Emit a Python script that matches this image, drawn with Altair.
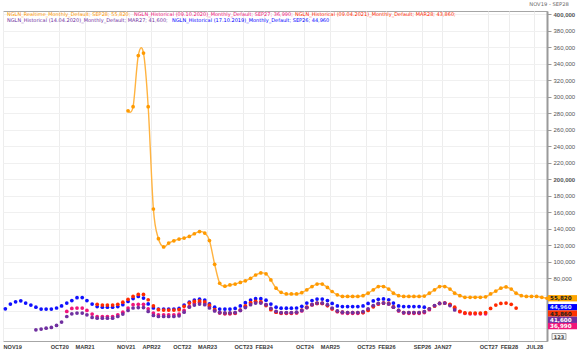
import altair as alt
import pandas as pd

# ---------------- data (values in thousands, monthly, index 0 = NOV19) ----------------
realtime_name = "NGLN_Realtime_Monthly_Default"
realtime_start = 24  # NOV21
realtime = [
    283, 288, 350, 353, 288, 164, 128, 118, 122.7, 125.5, 127.5, 128.7,
    130.7, 134, 136.7, 134.8, 125.8, 97, 74, 70.5, 72, 73, 75, 77,
    80, 84, 86.5, 85.5, 78, 68, 63, 61, 61, 61, 62.5, 66,
    70, 73, 73, 69, 64, 60, 58, 58, 58, 58, 59, 62,
    66, 70, 70, 67, 62, 59, 58, 58, 58, 58, 58.5, 62,
    66, 70, 70, 67, 62, 59, 57, 57, 57, 57, 57.5, 61,
    64.5, 68, 69.5, 67, 62, 59, 58, 58, 58, 57, 55.82,
]

h2019_name = "NGLN_Historical (17.10.2019)_Monthly_Default"
h2019_start = 0  # NOV19
h2019 = [
    43, 48.7, 51.5, 52.7, 50, 47.5, 45, 42.7, 42.7, 42.7, 44, 46.5,
    50, 53, 56.5, 56.7, 53, 48.7, 45.8, 45, 45, 45, 45.8, 48,
    52, 55.5, 58, 56, 49, 44, 42.7, 42.7, 42.7, 42.7, 43.5, 47.5,
    51, 53.7, 54.7, 53.7, 49, 45, 42.7, 42.7, 42.7, 43.5, 46.5, 50.5,
    53.7, 55.3, 55.3, 53.5, 48.7, 45, 43.8, 43.8, 43.8, 44, 46, 50,
    53, 54.8, 54.8, 53, 49.5, 46.5, 45.8, 45.8, 45.8, 45.8, 46.5, 49.5,
    52.5, 54.5, 55, 54, 50, 46.5, 45.8, 45.8, 45.8, 45.8, 44.96,
]

h2020a_name = "NGLN_Historical (14.04.2020)_Monthly_Default"
h2020a_start = 6  # MAY20
h2020a = [
    17.5, 18.4, 19.6, 20.4, 22.8, 26.9,
    33.7, 37, 37.8, 37.8, 35.7, 32.5, 31.7, 31.7, 31.7, 31.7, 33.7, 36.6,
    41, 44, 44.6, 44.6, 39.8, 35, 33.7, 33.7, 33.7, 33.7, 34.5, 39,
    45, 47.5, 48.7, 48, 44, 40.5, 38.5, 38, 38, 38.5, 41, 44.5,
    48, 50, 50, 48, 43.5, 40, 38.5, 38.5, 38.5, 39, 41, 44.5,
    48, 50, 50, 48, 44, 40.5, 39, 38.5, 38.5, 38.5, 39.5, 43,
    47, 49.5, 50, 49, 45, 41, 38.5, 38.5, 38.5, 38.5, 39.5, 43,
    47, 49.5, 50, 47, 41.6,
]

h2020b_name = "NGLN_Historical (09.10.2020)_Monthly_Default"
h2020b_start = 12  # NOV20
h2020b = [
    39.8, 43.5, 43.9, 43.9, 41, 36.6, 33.7, 33.7, 33.7, 33.7, 35.7, 39,
    43.9, 48, 48.5, 48.5, 43, 37.8, 35.7, 35.7, 35.7, 35.7, 36.5, 41,
    46, 49.5, 51, 50, 46, 41, 38, 37, 37, 37.5, 41, 46,
    50, 51.5, 51, 48, 43, 39, 37.5, 37.5, 37.5, 38, 40.5, 44.5,
    48, 49.5, 49.5, 47, 43, 39.5, 38, 37.5, 37.5, 37.5, 38.5, 42,
    46, 49, 50, 49, 45, 40.5, 38, 37.5, 37.5, 37.5, 38.5, 42,
    46.5, 49.5, 50, 48, 43.5, 39.5, 37.5, 37, 37, 37, 36.99,
]

h2021_name = "NGLN_Historical (09.04.2021)_Monthly_Default"
h2021_start = 18  # MAY21
h2021 = [
    48.5, 47.5, 47.5, 47.5, 48.5, 51,
    54.5, 58, 60.5, 60.5, 54, 46.5, 42, 41.5, 41.5, 41.5, 42, 46,
    50, 52, 52.5, 51.5, 47.5, 42, 38.5, 37.5, 37.5, 38, 41.5, 46.5,
    50.5, 52, 51.5, 47, 42, 39, 38, 38, 38, 38.5, 41.5, 45,
    48, 49.5, 49.5, 47, 43, 40, 39, 38.5, 38.5, 38.5, 38.5, 41,
    45.5, 49, 50, 49.5, 45.5, 41, 38.5, 38.5, 38.5, 38.5, 39.5, 43,
    46.5, 49.5, 50, 48.5, 45, 40, 38, 37.8, 37.8, 37.8, 38.5, 43.5,
    47.5, 49.5, 50, 48.5, 43.86,
]

legend_line1 = [
    ("NGLN_Realtime_Monthly_Default; SEP28; 55,820;", "#FF9900"),
    ("NGLN_Historical (09.10.2020)_Monthly_Default; SEP27; 36,990;", "#F0157A"),
    ("NGLN_Historical (09.04.2021)_Monthly_Default; MAR28; 43,860;", "#FF2A00"),
]
legend_line2 = [
    ("NGLN_Historical (14.04.2020)_Monthly_Default; MAR27; 41,600;", "#7030A0"),
    ("NGLN_Historical (17.10.2019)_Monthly_Default; SEP26; 44,960", "#0000FF"),
]
end_labels = ["55,820", "44,960", "43,860", "41,600", "36,990"]
end_values = [55820, 44960, 43860, 41600, 36990]
end_bg = ["#FFA500", "#0000FF", "#FF3300", "#7030A0", "#F0157A"]
end_fg = ["#222222", "#DDE6FF", "#222222", "#FFFFFF", "#FFFFFF"]

x_ticks = [(2019, 11), (2020, 10), (2021, 3), (2021, 11), (2022, 4), (2022, 10),
           (2023, 3), (2023, 10), (2024, 2), (2024, 10), (2025, 3), (2025, 10),
           (2026, 2), (2026, 9), (2027, 1), (2027, 10), (2028, 2), (2028, 7)]
y_ticks = list(range(20000, 400001, 20000))

# ---------------- layout ----------------
W, H = 544, 330
Y_MIN, Y_MAX = 4000, 404000


def month_date(idx):
    total = 10 + idx
    return f"{2019 + total // 12}-{total % 12 + 1:02d}-15"


hist_specs = [
    (h2019_name, h2019_start, h2019, "#1010FF"),
    (h2020b_name, h2020b_start, h2020b, "#F0157A"),
    (h2021_name, h2021_start, h2021, "#FF2A00"),
    (h2020a_name, h2020a_start, h2020a, "#7030A0"),
]
rows = []
for name, start, vals, _c in hist_specs:
    for i, v in enumerate(vals):
        rows.append({"date": month_date(start + i), "value": v * 1000, "series": name})
hist_df = pd.DataFrame(rows)

rt_df = pd.DataFrame({
    "date": [month_date(realtime_start + i) for i in range(len(realtime))],
    "value": [v * 1000 for v in realtime],
})

x_scale = alt.Scale(
    type="utc",
    domain=[alt.DateTime(year=2019, month=11, date=1, utc=True),
            alt.DateTime(year=2028, month=9, date=15, utc=True)],
)
y_scale = alt.Scale(domain=[Y_MIN, Y_MAX], nice=False, zero=False)

x_axis = alt.Axis(
    values=[alt.DateTime(year=y, month=m, date=1, utc=True) for y, m in x_ticks],
    labelExpr="upper(utcFormat(datum.value, '%b%y'))",
    labelFontSize=5.6, labelFontWeight="bold", labelColor="#3A3A3A",
    labelFont="Liberation Sans",
    labelFlush=True, labelPadding=3, ticks=False, domain=False,
    grid=True, gridColor="#EDEDED", title=None, labelOverlap=False,
)
y_axis = alt.Axis(
    orient="right", values=y_ticks, format=",d",
    labelExpr="datum.value < 70000 ? '' : datum.label",
    labelFontSize=6, labelColor="#555555", labelFont="Liberation Sans",
    labelFontWeight={"condition": {"test": "datum.value == 200000 || datum.value == 400000",
                                   "value": "bold"}, "value": "normal"},
    labelOverlap=False,
    domain=True, domainColor="#9A9A9A", domainWidth=2,
    tickColor="#9A9A9A", tickSize=4, labelPadding=2,
    grid=True, gridColor="#F0F0F0", title=None,
)

X = alt.X("date:T", scale=x_scale, axis=x_axis)
Y = alt.Y("value:Q", scale=y_scale, axis=y_axis)

hist_points = alt.Chart(hist_df).mark_circle(size=14, opacity=1).encode(
    x=X, y=Y,
    color=alt.Color("series:N", legend=None,
                    scale=alt.Scale(domain=[s[0] for s in hist_specs],
                                    range=[s[3] for s in hist_specs])),
)

rt_line = alt.Chart(rt_df).mark_line(interpolate="cardinal", color="#FFB340", strokeWidth=1.4).encode(
    x=X, y=Y,
)
rt_points = alt.Chart(rt_df).mark_circle(size=14, opacity=1, color="#FF9A00").encode(
    x=X, y=Y,
)

px_per_unit = H / (Y_MAX - Y_MIN)
box_h = 6.3
centers_px = []
for v in end_values:
    p = (Y_MAX - v) * px_per_unit
    if centers_px and p < centers_px[-1] + box_h:
        p = centers_px[-1] + box_h
    centers_px.append(p)
lab_df = pd.DataFrame({
    "text": end_labels,
    "value": [Y_MAX - p / px_per_unit for p in centers_px],
    "lo": [Y_MAX - (p + box_h / 2) / px_per_unit for p in centers_px],
    "hi": [Y_MAX - (p - box_h / 2) / px_per_unit for p in centers_px],
    "bg": end_bg,
    "fg": end_fg,
})
boxes = alt.Chart(lab_df).mark_rect().encode(
    x=alt.value(W + 1), x2=alt.value(W + 30),
    y=alt.Y("lo:Q", scale=y_scale, axis=y_axis), y2="hi:Q",
    color=alt.Color("bg:N", scale=None),
)
box_text = alt.Chart(lab_df).mark_text(align="left", baseline="middle", fontSize=5.6,
                                       fontWeight="bold", font="DejaVu Sans").encode(
    x=alt.value(W + 3),
    y=Y,
    text="text:N",
    color=alt.Color("fg:N", scale=None),
)

legend_layers = []
seg_x1 = [4, 131, 292]
seg_x2 = [4, 169]
LEG_FS = 5.0
for (txt, col), xx in zip(legend_line1, seg_x1):
    legend_layers.append(
        alt.Chart(pd.DataFrame({"t": [txt]})).mark_text(
            align="left", baseline="middle", fontSize=LEG_FS, color=col, font="DejaVu Sans"
        ).encode(x=alt.value(xx), y=alt.value(2.8), text="t:N")
    )
for (txt, col), xx in zip(legend_line2, seg_x2):
    legend_layers.append(
        alt.Chart(pd.DataFrame({"t": [txt]})).mark_text(
            align="left", baseline="middle", fontSize=LEG_FS, color=col, font="DejaVu Sans"
        ).encode(x=alt.value(xx), y=alt.value(9), text="t:N")
    )

range_text = alt.Chart(pd.DataFrame({"t": ["NOV19 - SEP28"]})).mark_text(
    align="center", baseline="middle", fontSize=5.2, color="#666666", font="DejaVu Sans"
).encode(x=alt.value(W + 2), y=alt.value(-7), text="t:N")

page_box = alt.Chart(pd.DataFrame({"t": ["123"]})).mark_rect(
    fill="#F4F4F4", stroke="#8A8A8A", strokeWidth=0.8
).encode(x=alt.value(W + 5), x2=alt.value(W + 19), y=alt.value(322.5), y2=alt.value(328.5))
page_text = alt.Chart(pd.DataFrame({"t": ["123"]})).mark_text(
    align="center", baseline="middle", fontSize=5, fontWeight="bold", color="#444444",
    font="DejaVu Sans"
).encode(x=alt.value(W + 12), y=alt.value(325.7), text="t:N")

chart = alt.layer(
    hist_points, rt_line, rt_points, boxes, box_text, range_text, page_box, page_text,
    *legend_layers
).properties(
    width=W, height=H,
    padding={"left": 3, "top": 11, "right": 31, "bottom": 10},
    autosize=alt.AutoSizeParams(type="none"),
).configure_view(
    stroke="#A6A6A6", strokeWidth=1
)

chart.save("out.html", embed_options={"renderer": "svg", "actions": False})
